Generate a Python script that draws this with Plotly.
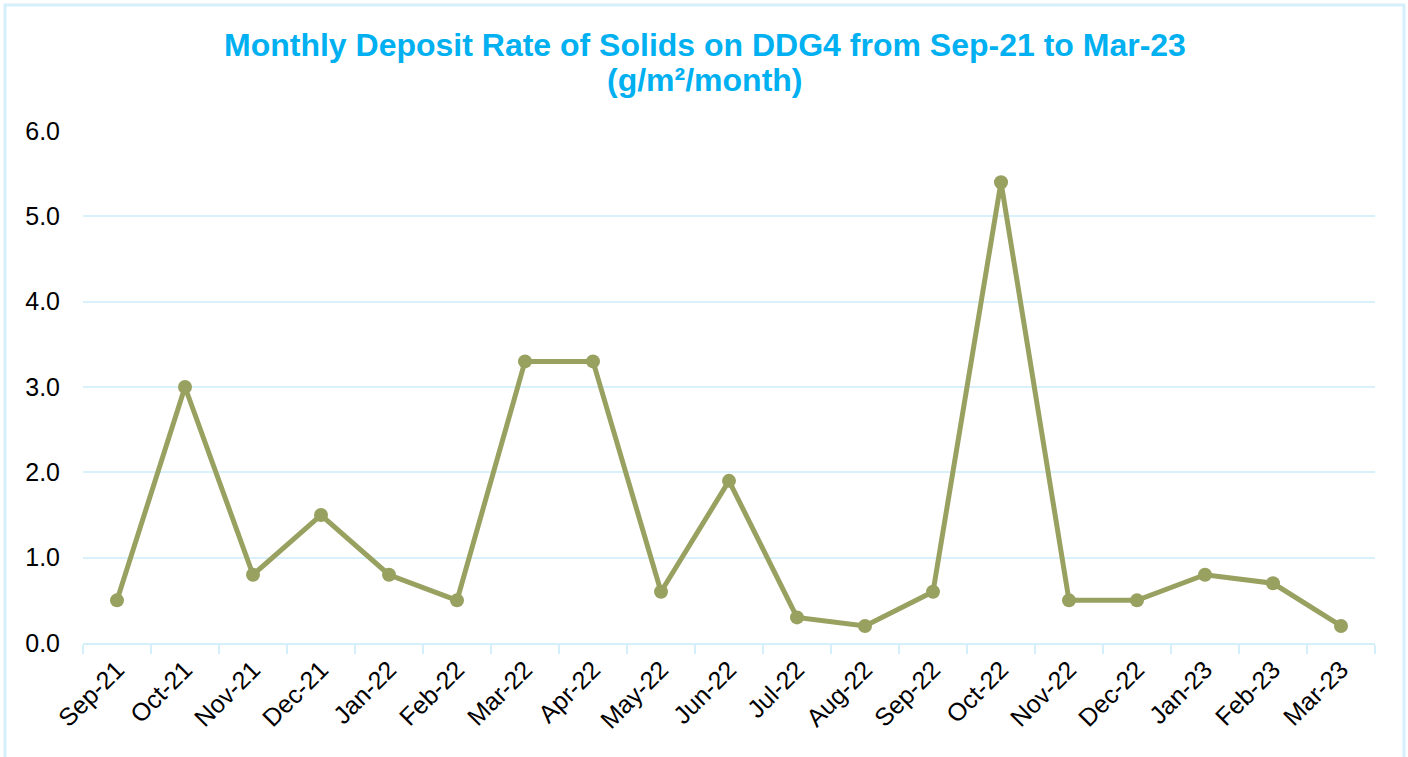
import plotly.graph_objects as go

months = ["Sep-21", "Oct-21", "Nov-21", "Dec-21", "Jan-22", "Feb-22", "Mar-22", "Apr-22",
          "May-22", "Jun-22", "Jul-22", "Aug-22", "Sep-22", "Oct-22", "Nov-22", "Dec-22",
          "Jan-23", "Feb-23", "Mar-23"]
deposit_rate = [0.5, 3.0, 0.8, 1.5, 0.8, 0.5, 3.3, 3.3, 0.6, 1.9, 0.3, 0.2, 0.6, 5.4, 0.5, 0.5, 0.8, 0.7, 0.2]
y_ticks = [0, 1, 2, 3, 4, 5, 6]
title_line1 = "Monthly Deposit Rate of Solids on DDG4 from Sep-21 to Mar-23"
title_line2 = "(g/m²/month)"

W, H = 1408, 757
L, R, T, B = 83, 33, 131, 114
pw = W - L - R
ph = H - T - B


def px_x(x):
    return (x - L) / pw


def px_y(y):
    return (H - B - y) / ph


fig = go.Figure()
fig.add_trace(go.Scatter(
    x=months, y=deposit_rate, mode="lines+markers",
    line=dict(color="#98A160", width=5),
    marker=dict(color="#98A160", size=14),
    showlegend=False,
))

fig.add_shape(type="rect", xref="paper", yref="paper",
              x0=px_x(5), x1=px_x(1404), y0=px_y(770), y1=px_y(5),
              line=dict(color="#D6F0FB", width=3), layer="below")

title_font = dict(size=32, color="#00B0F0", family="Liberation Sans, Arial, sans-serif")
fig.add_annotation(text="<b>" + title_line1 + "</b>", xref="paper", yref="paper",
                   x=px_x(705), y=px_y(45), xanchor="center", yanchor="middle",
                   showarrow=False, font=title_font)
fig.add_annotation(text="<b>" + title_line2 + "</b>", xref="paper", yref="paper",
                   x=px_x(705), y=px_y(80), xanchor="center", yanchor="middle",
                   showarrow=False, font=title_font)

fig.update_layout(
    width=W, height=H,
    margin=dict(l=L, r=R, t=T, b=B),
    paper_bgcolor="white", plot_bgcolor="white",
    font=dict(family="Liberation Sans, Arial, sans-serif", color="#000000"),
    xaxis=dict(
        type="category", tickson="boundaries", ticks="outside", ticklen=9,
        tickcolor="#D6F0FB", tickwidth=2,
        showline=True, linecolor="#D6F0FB", linewidth=2,
        showgrid=False, tickangle=-45,
        tickfont=dict(size=25, color="#000000"),
        range=[-0.5, len(months) - 0.5],
    ),
    yaxis=dict(
        range=[0, 6], tickvals=y_ticks, tickformat=".1f",
        showgrid=True, gridcolor="#D9F1FB", gridwidth=2,
        zeroline=False, showline=False,
        tickfont=dict(size=25, color="#000000"),
        ticklabelstandoff=22,
    ),
)

fig.write_html("out.html", config={"displayModeBar": False},
               post_script="document.body.style.margin='0';")
